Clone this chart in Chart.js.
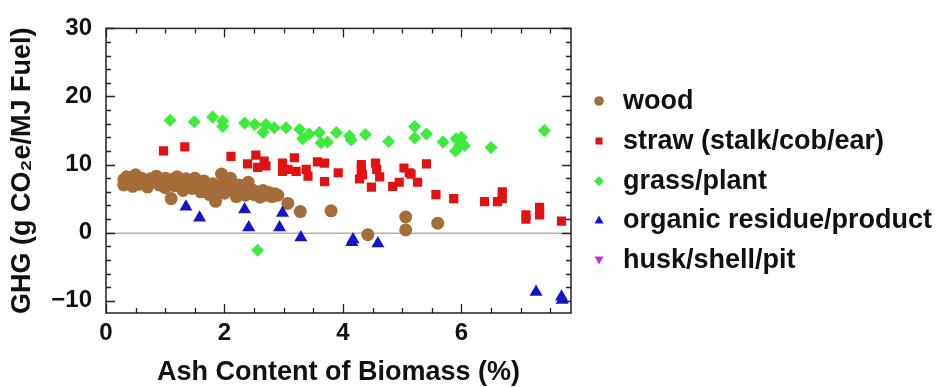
<!DOCTYPE html>
<html>
<head>
<meta charset="utf-8">
<script src="https://cdn.jsdelivr.net/npm/chart.js@4.4.0/dist/chart.umd.min.js"></script>
<style>
  html, body { margin: 0; padding: 0; background: #fff; }
</style>
</head>
<body>
<canvas id="chartCanvas" width="938" height="387"></canvas>
<script>
// series names (legend order)
const seriesNames = ["wood", "straw (stalk/cob/ear)", "grass/plant", "organic residue/product", "husk/shell/pit"];

// wood
const woodX = [0.30,0.30,0.35,0.40,0.45,0.50,0.50,0.55,0.60,0.65,0.70,0.75,0.80,0.85,0.90,0.95,1.00,1.00,1.05,1.10,1.10,1.15,1.20,1.25,1.30,1.35,1.40,1.45,1.50,1.55,1.60,1.65,1.70,1.75,1.80,1.85,1.90,1.95,2.00,2.00,2.05,2.10,2.15,2.20,2.25,2.30,2.35,2.40,2.45,2.50,2.55,2.60,2.65,2.70,2.75,2.80,2.85,2.90,3.07,3.28,3.80,4.42,5.06,5.06,5.60];
const woodY = [7.8,7.0,8.2,7.4,6.8,8.5,7.6,7.1,8.0,7.3,6.7,7.9,7.5,8.3,7.0,7.7,6.6,8.0,7.2,5.0,7.8,6.9,8.2,7.4,6.2,7.9,7.0,6.5,8.0,7.3,6.0,7.6,6.8,5.6,7.2,4.6,6.4,8.6,7.6,5.8,6.9,8.0,6.2,5.3,7.0,6.0,5.5,7.4,6.4,5.6,6.0,5.2,6.2,5.5,5.9,5.3,5.7,5.5,4.3,3.1,3.2,-0.3,2.3,0.4,1.4];

// straw (stalk/cob/ear)
const strawX = [0.97,1.33,2.11,2.39,2.53,2.56,2.67,2.70,2.98,2.98,3.07,3.18,3.21,3.38,3.41,3.57,3.69,3.69,3.92,4.28,4.31,4.31,4.33,4.48,4.55,4.57,4.62,4.84,4.95,5.03,5.12,5.15,5.26,5.41,5.57,5.87,6.39,6.61,6.69,6.69,7.09,7.09,7.32,7.32,7.69];
const strawY = [12.0,12.6,11.2,10.1,11.4,9.6,10.5,9.8,10.2,9.0,9.3,11.0,9.0,9.3,8.3,10.4,10.2,7.5,8.8,7.9,10.0,9.2,8.5,6.7,10.2,9.3,8.2,6.8,7.4,9.5,8.8,8.6,7.4,10.1,5.6,5.0,4.55,4.55,6.0,5.0,2.6,2.0,3.7,2.6,1.7];

// grass/plant
const grassX = [1.08,1.49,1.80,1.97,1.97,2.34,2.51,2.65,2.70,2.84,3.04,3.27,3.32,3.43,3.60,3.63,3.74,3.89,4.11,4.14,4.38,4.77,5.21,5.21,5.41,5.69,5.91,5.97,5.90,6.05,6.00,6.50,7.40,2.56];
const grassY = [16.5,16.3,17.0,16.4,15.6,16.1,15.9,14.7,15.9,15.4,15.4,15.2,13.8,14.5,14.7,13.2,13.3,14.7,14.2,13.6,14.4,13.4,15.6,13.9,14.5,13.3,13.8,12.8,12.0,12.8,14.0,12.5,15.0,-2.6];

// organic residue/product
const organicX = [1.35,1.58,2.34,2.41,2.98,2.93,3.29,4.17,4.15,4.59,7.26,7.69,7.70];
const organicY = [3.8,2.2,3.4,0.75,2.9,0.75,-0.7,-1.0,-1.4,-1.6,-8.7,-9.4,-9.9];

// husk/shell/pit (no points visible)
const huskX = [];
const huskY = [];

// axis ticks
const xTickValues = [0, 2, 4, 6];
const yTickValues = [-10, 0, 10, 20, 30];

const toPoints = (xs, ys) => xs.map((x, i) => ({ x: x, y: ys[i] }));

const FONT = '"Liberation Sans", Arial, sans-serif';

// frame with inward ticks on all four sides + zero line
const framePlugin = {
  id: "frame",
  beforeDatasetsDraw(chart) {
    const { ctx, chartArea: a, scales } = chart;
    const y0 = scales.y.getPixelForValue(0);
    ctx.save();
    ctx.strokeStyle = "#8a8a8a";
    ctx.lineWidth = 1;
    ctx.beginPath();
    ctx.moveTo(a.left, y0 + 0.5);
    ctx.lineTo(a.right, y0 + 0.5);
    ctx.stroke();
    ctx.restore();
  },
  afterDatasetsDraw(chart) {
    const { ctx, chartArea: a, scales } = chart;
    ctx.save();
    ctx.strokeStyle = "#222";
    ctx.lineWidth = 1.5;
    ctx.strokeRect(a.left, a.top, a.right - a.left, a.bottom - a.top);
    ctx.lineWidth = 1.3;
    ctx.beginPath();
    // x ticks every 0.5, long ones every 2
    for (let v = 0; v <= scales.x.max + 1e-9; v += 0.5) {
      const px = Math.round(scales.x.getPixelForValue(v)) + 0.5;
      const len = Math.abs(v % 2) < 1e-9 ? 9 : 5;
      ctx.moveTo(px, a.bottom); ctx.lineTo(px, a.bottom - len);
      ctx.moveTo(px, a.top); ctx.lineTo(px, a.top + len);
    }
    // y ticks every 2, long ones every 10
    for (let v = -10; v <= 30 + 1e-9; v += 2) {
      const py = Math.round(scales.y.getPixelForValue(v)) + 0.5;
      const len = Math.abs(v % 10) < 1e-9 ? 9 : 5;
      ctx.moveTo(a.left, py); ctx.lineTo(a.left + len, py);
      ctx.moveTo(a.right, py); ctx.lineTo(a.right - len, py);
    }
    ctx.stroke();
    ctx.restore();
  }
};

// legend drawn to the right of the plot
const legendPlugin = {
  id: "sideLegend",
  afterDraw(chart) {
    const { ctx } = chart;
    const rows = [101, 141, 181, 220, 260];
    const mx = 599, tx = 623;
    ctx.save();
    chart.data.datasets.forEach((ds, i) => {
      const y = rows[i];
      ctx.fillStyle = ds.backgroundColor;
      ctx.beginPath();
      const st = ds.pointStyle;
      if (st === "circle") {
        ctx.arc(mx, y, 4.8, 0, Math.PI * 2);
      } else if (st === "rect") {
        ctx.rect(mx - 3.5, y - 3.5, 7, 7);
      } else if (st === "rectRot") {
        ctx.moveTo(mx, y - 5); ctx.lineTo(mx + 5, y); ctx.lineTo(mx, y + 5); ctx.lineTo(mx - 5, y);
      } else if (ds.rotation === 180) {
        ctx.moveTo(mx - 4.5, y - 3.5); ctx.lineTo(mx + 4.5, y - 3.5); ctx.lineTo(mx, y + 4.5);
      } else {
        ctx.moveTo(mx - 4.5, y + 3.5); ctx.lineTo(mx + 4.5, y + 3.5); ctx.lineTo(mx, y - 4.5);
      }
      ctx.closePath();
      ctx.fill();
      ctx.fillStyle = "#111";
      ctx.font = "bold 27px " + FONT;
      ctx.textBaseline = "middle";
      ctx.textAlign = "left";
      ctx.fillText(ds.label, tx, y + 1);
    });
    ctx.restore();
  }
};

const ctx = document.getElementById("chartCanvas").getContext("2d");

new Chart(ctx, {
  type: "scatter",
  data: {
    datasets: [
      { label: seriesNames[0], data: toPoints(woodX, woodY), pointStyle: "circle", radius: 6.5,
        backgroundColor: "#A56D3A", borderColor: "#A56D3A", borderWidth: 0, order: 5 },
      { label: seriesNames[1], data: toPoints(strawX, strawY), pointStyle: "rect", radius: 6.5,
        backgroundColor: "#E31212", borderColor: "#E31212", borderWidth: 0, order: 4 },
      { label: seriesNames[2], data: toPoints(grassX, grassY), pointStyle: "rectRot", radius: 6.5,
        backgroundColor: "#3DEB3D", borderColor: "#3DEB3D", borderWidth: 0, order: 3 },
      { label: seriesNames[3], data: toPoints(organicX, organicY), pointStyle: "triangle", radius: 7.5,
        backgroundColor: "#1515C8", borderColor: "#1515C8", borderWidth: 0, order: 2 },
      { label: seriesNames[4], data: toPoints(huskX, huskY), pointStyle: "triangle", rotation: 180, radius: 7,
        backgroundColor: "#C832D2", borderColor: "#C832D2", borderWidth: 0, order: 1 }
    ]
  },
  options: {
    responsive: false,
    animation: false,
    layout: { padding: { left: 0, right: 367, top: 19, bottom: 0 } },
    plugins: {
      legend: { display: false },
      tooltip: { enabled: false }
    },
    scales: {
      x: {
        type: "linear",
        min: 0,
        max: 7.85,
        afterBuildTicks: (s) => { s.ticks = xTickValues.map(v => ({ value: v })); },
        afterFit: (s) => { s.height = 74; },
        grid: { display: false, drawTicks: false },
        border: { display: false },
        ticks: { color: "#111", padding: 6, font: { family: FONT, size: 24, weight: "bold" } },
        title: {
          display: true,
          text: "Ash Content of Biomass (%)",
          color: "#111",
          padding: 0,
          font: { family: FONT, size: 27, weight: "bold", lineHeight: 1.1 }
        }
      },
      y: {
        type: "linear",
        min: -11.8,
        max: 30,
        afterBuildTicks: (s) => { s.ticks = yTickValues.map(v => ({ value: v })); },
        afterFit: (s) => { s.width = 106; },
        grid: { display: false, drawTicks: false },
        border: { display: false },
        ticks: {
          color: "#111",
          padding: 14,
          font: { family: FONT, size: 24, weight: "bold" },
          callback: (v) => (v < 0 ? "\u2212" + Math.abs(v) : String(v))
        },
        title: {
          display: true,
          text: "GHG (g CO\u2082e/MJ Fuel)",
          color: "#111",
          padding: { top: 6, bottom: 0 },
          font: { family: FONT, size: 27, weight: "bold", lineHeight: 1.2 }
        }
      }
    }
  },
  plugins: [framePlugin, legendPlugin]
});
</script>
</body>
</html>
